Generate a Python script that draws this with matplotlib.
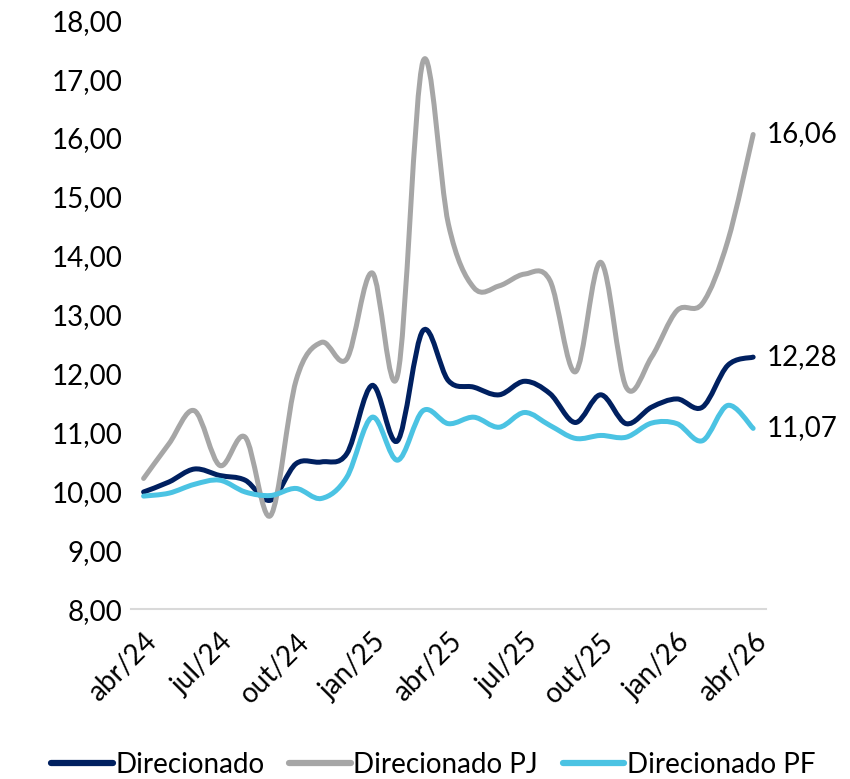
import numpy as np
import matplotlib
matplotlib.use("Agg")
import matplotlib.pyplot as plt
from matplotlib.path import Path
from matplotlib.patches import PathPatch
from matplotlib.lines import Line2D

plt.rcParams['font.family'] = ['Lato', 'DejaVu Sans']

# monthly series, abr/24 .. abr/26
months = ['abr/24', 'mai/24', 'jun/24', 'jul/24', 'ago/24', 'set/24', 'out/24',
          'nov/24', 'dez/24', 'jan/25', 'fev/25', 'mar/25', 'abr/25', 'mai/25',
          'jun/25', 'jul/25', 'ago/25', 'set/25', 'out/25', 'nov/25', 'dez/25',
          'jan/26', 'fev/26', 'mar/26', 'abr/26']

direcionado = [9.99, 10.16, 10.38, 10.27, 10.19, 9.85, 10.47, 10.50, 10.64,
               11.80, 10.86, 12.73, 11.88, 11.77, 11.64, 11.87, 11.66, 11.17,
               11.64, 11.15, 11.43, 11.57, 11.43, 12.14, 12.28]
direcionado_pj = [10.22, 10.81, 11.37, 10.44, 10.92, 9.59, 11.88, 12.53, 12.25,
                  13.71, 11.97, 17.30, 14.54, 13.46, 13.49, 13.69, 13.58, 12.03,
                  13.89, 11.77, 12.28, 13.07, 13.19, 14.25, 16.06]
direcionado_pf = [9.92, 9.97, 10.12, 10.19, 9.99, 9.93, 10.05, 9.88, 10.24,
                  11.26, 10.53, 11.37, 11.15, 11.26, 11.09, 11.34, 11.12, 10.90,
                  10.95, 10.92, 11.16, 11.15, 10.86, 11.46, 11.07]

series = [('Direcionado', direcionado, '#002060'),
          ('Direcionado PJ', direcionado_pj, '#A6A6A6'),
          ('Direcionado PF', direcionado_pf, '#4BC3E3')]


def smooth_path(y):
    # Excel-style smoothed line: cubic bezier segments through the data points
    x = np.arange(len(y), dtype=float)
    pts = np.column_stack([x, np.asarray(y, dtype=float)])
    verts = [pts[0]]
    codes = [Path.MOVETO]
    n = len(pts)
    for i in range(n - 1):
        p0 = pts[i - 1] if i > 0 else pts[i]
        p1 = pts[i]
        p2 = pts[i + 1]
        p3 = pts[i + 2] if i + 2 < n else pts[i + 1]
        c1 = p1 + (p2 - p0) / 6.0
        c2 = p2 - (p3 - p1) / 6.0
        verts += [c1, c2, p2]
        codes += [Path.CURVE4] * 3
    return Path(verts, codes)


fig = plt.figure(figsize=(8.5, 7.79), dpi=100)
ax = fig.add_axes([0.154, 0.218, 0.747, 0.756])

for name, vals, col in series:
    ax.add_patch(PathPatch(smooth_path(vals), fill=False, edgecolor=col,
                           lw=3.6, capstyle='round', joinstyle='round', zorder=3))
    ax.text(len(vals) - 1 + 0.55, vals[-1], f'{vals[-1]:.2f}'.replace('.', ','),
            fontsize=20, va='center', ha='left', clip_on=False)

ax.set_xlim(-0.5, len(months) - 0.5)
ax.set_ylim(8, 18)
ax.set_yticks(np.arange(8, 19, 1))
ax.set_yticklabels([f'{v:.2f}'.replace('.', ',') for v in np.arange(8, 19, 1)],
                   fontsize=20)
tick_idx = list(range(0, len(months), 3))
ax.set_xticks(tick_idx)
ax.set_xticklabels([months[i] for i in tick_idx], rotation=45, ha='right',
                   rotation_mode='anchor', fontsize=20)
ax.tick_params(axis='y', length=0, pad=6)
ax.tick_params(axis='x', length=0, pad=14)

for s in ['top', 'right', 'left']:
    ax.spines[s].set_visible(False)
ax.spines['bottom'].set_color('#D9D9D9')
ax.spines['bottom'].set_linewidth(1.5)

handles = [Line2D([], [], color=c, lw=4.5, solid_capstyle='round') for _, _, c in series]
fig.legend(handles, [n for n, _, _ in series], loc='center', ncol=3,
           bbox_to_anchor=(0.51, 0.018), frameon=False, fontsize=20,
           handlelength=2.2, handletextpad=0.1, columnspacing=0.9)

fig.savefig('out.png', dpi=100)
